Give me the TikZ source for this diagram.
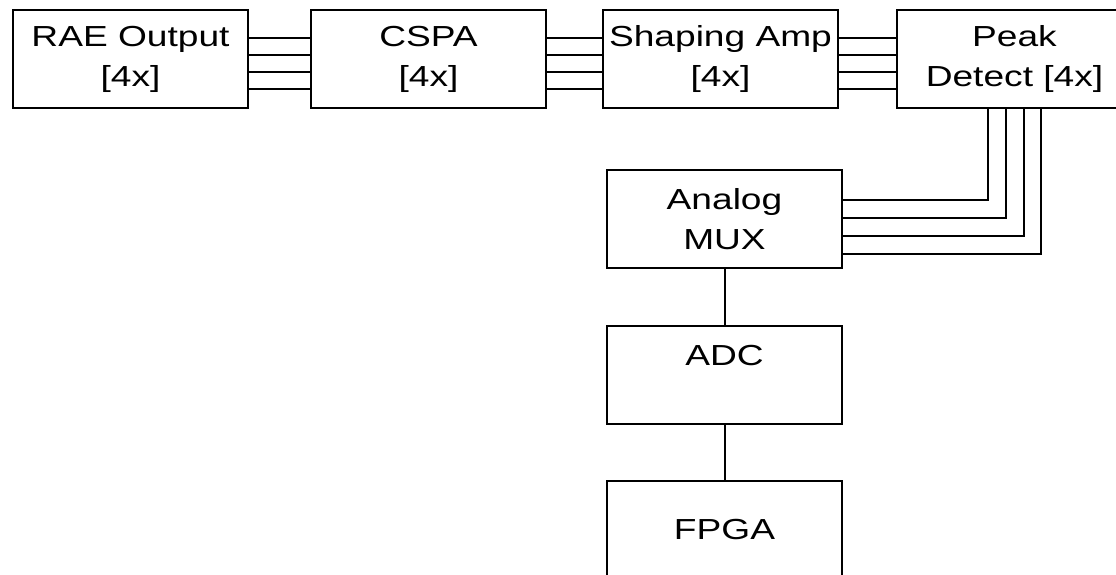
\documentclass[tikz,border=0pt]{standalone}
\usepackage{fontspec}
\usetikzlibrary{positioning}
\newfontfamily\boxfont{Liberation Sans}[FakeStretch=1.28]

\tikzset{
	blockbox/.style={draw, line width=2pt, minimum width=235pt, minimum height=98pt,
		inner sep=0pt, align=center, font=\boxfont\fontsize{29}{40}\selectfont},
	bus/.style={line width=2pt},
}

\begin{document}
\begin{tikzpicture}[x=1pt, y=-1pt]
	\path[clip] (0,0) rectangle (1116,575);
	\node[blockbox] (rae) at (130.5,59) {RAE Output\\{}[4x]};
	\node[blockbox, right=61pt of rae] (cspa) {CSPA\\{}[4x]};
	\node[blockbox, right=55pt of cspa] (shaping) {Shaping Amp\\{}[4x]};
	\node[blockbox, right=57pt of shaping] (peak) {Peak\\Detect [4x]};
	\node[blockbox, below=60pt of shaping, xshift=4pt] (mux) {Analog\\MUX};
	\node[blockbox, below=56pt of mux] (adc) {ADC\\~};
	\node[blockbox, below=55pt of adc] (fpga) {FPGA};
	
	\foreach \dy in {20.5,3.5,-13.5,-30.5}{
		\draw[bus] ([yshift=\dy pt]rae.east) -- ([yshift=\dy pt]cspa.west);
		\draw[bus] ([yshift=\dy pt]cspa.east) -- ([yshift=\dy pt]shaping.west);
		\draw[bus] ([yshift=\dy pt]shaping.east) -- ([yshift=\dy pt]peak.west);
	}
	\foreach \dx/\dy in {-26.5/19.5,-9/1.5,9/-16.5,26.5/-34.5}
		\draw[bus] ([xshift=\dx pt]peak.south) |- ([yshift=\dy pt]mux.east);
	\draw[bus] (mux) -- (adc);
	\draw[bus] (adc) -- (fpga);
\end{tikzpicture}
\end{document}
